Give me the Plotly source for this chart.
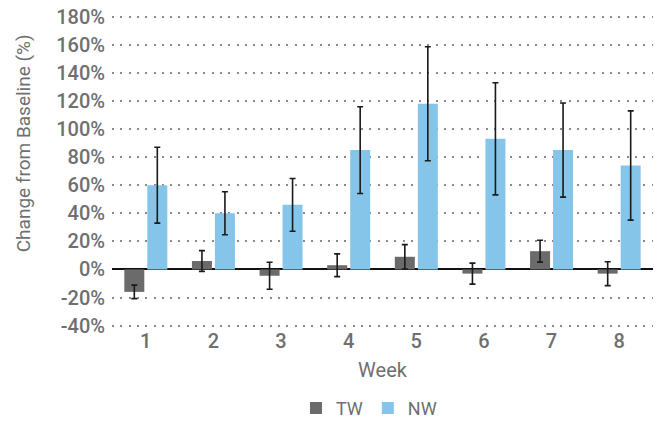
import plotly.graph_objects as go

weeks = ["1", "2", "3", "4", "5", "6", "7", "8"]
tw_values = [-16, 6, -4.5, 3, 9, -3, 13, -3]
tw_errors = [4.8, 7.4, 9.6, 8.1, 8.7, 7.5, 7.8, 8.5]
nw_values = [60, 40, 46, 85, 118, 93, 85, 74]
nw_errors = [27, 15.3, 18.8, 30.9, 40.6, 39.9, 33.5, 38.9]
y_ticks = [-40, -20, 0, 20, 40, 60, 80, 100, 120, 140, 160, 180]
y_ticktext = [f"{v}%" for v in y_ticks]

TEXT = "#6f6f6f"
FONT = "Roboto"

fig = go.Figure()
fig.add_trace(go.Bar(
    name="TW", x=weeks, y=tw_values,
    marker=dict(color="#6b6b6b", line=dict(width=0)),
    error_y=dict(type="data", array=tw_errors, visible=True,
                 color="#1a1a1a", thickness=1.6, width=3),
))
fig.add_trace(go.Bar(
    name="NW", x=weeks, y=nw_values,
    marker=dict(color="#85c5ea", line=dict(width=0)),
    error_y=dict(type="data", array=nw_errors, visible=True,
                 color="#1a1a1a", thickness=1.6, width=3),
))

fig.update_layout(
    width=657, height=421,
    margin=dict(l=112, r=4, t=15, b=94, autoexpand=False),
    paper_bgcolor="white", plot_bgcolor="white",
    barmode="group", bargap=0.32, bargroupgap=0.13,
    font=dict(family=FONT, color=TEXT, size=17),
    showlegend=True,
    legend=dict(orientation="h", x=0.475, xanchor="center",
                yref="container", y=0.03, yanchor="middle",
                font=dict(size=18, color=TEXT), itemwidth=30,
                traceorder="normal"),
    annotations=[dict(
        text="Change from Baseline (%)", textangle=-90,
        xref="paper", yref="paper", x=-0.162, y=0.59,
        xanchor="center", yanchor="middle", showarrow=False,
        font=dict(size=19, color=TEXT, family=FONT),
    )],
)
fig.update_xaxes(
    type="category", showgrid=False, showline=False, ticks="", automargin=False,
    tickfont=dict(size=20, color=TEXT, family=FONT, weight=500),
    title=dict(text="Week", font=dict(size=20, color=TEXT), standoff=10),
)
fig.update_yaxes(
    range=[-41, 181.2], tickmode="array", tickvals=y_ticks, ticktext=y_ticktext,
    showgrid=True, gridcolor="#8a8a8a", gridwidth=2, griddash="2px,6.3px",
    zeroline=True, zerolinecolor="#111111", zerolinewidth=1.6,
    showline=False, ticks="", ticklabelstandoff=6, automargin=False,
    tickfont=dict(size=20, color=TEXT, family=FONT, weight=500),
)

fig.write_html("out.html", config={"displayModeBar": False},
               post_script="document.body.style.margin='0';")
